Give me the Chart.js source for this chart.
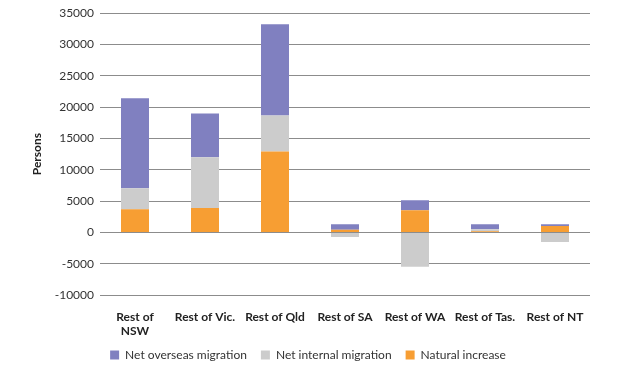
<!DOCTYPE html>
<html>
<head>
<meta charset="utf-8">
<script src="https://cdn.jsdelivr.net/npm/chart.js@4"></script>
<style>
  body { margin: 0; background: #fff; }
</style>
</head>
<body>
<canvas id="chart" width="624" height="381"></canvas>
<script>
const categories = [["Rest of", "NSW"], "Rest of Vic.", "Rest of Qld", "Rest of SA", "Rest of WA", "Rest of Tas.", "Rest of NT"];
const naturalIncrease = [3700, 3900, 12900, 400, 3550, 200, 1000];
const netInternal = [3350, 8100, 5750, -750, -5500, 300, -1550];
const netOverseas = [14350, 7000, 14600, 900, 1600, 800, 300];
const yTicks = { min: -10000, max: 35000, step: 5000 };

const ctx = document.getElementById('chart').getContext('2d');
new Chart(ctx, {
  type: 'bar',
  data: {
    labels: categories,
    datasets: [
      { label: 'Natural increase', data: naturalIncrease, backgroundColor: 'rgb(247,158,51)' },
      { label: 'Net internal migration', data: netInternal, backgroundColor: 'rgb(204,204,204)' },
      { label: 'Net overseas migration', data: netOverseas, backgroundColor: 'rgb(128,128,192)' }
    ]
  },
  options: {
    responsive: false,
    animation: false,
    layout: { padding: { top: 4, right: 34, bottom: 10, left: 26 } },
    datasets: { bar: { categoryPercentage: 0.8, barPercentage: 0.5 } },
    plugins: {
      tooltip: { enabled: false },
      legend: {
        position: 'bottom',
        reverse: true,
        labels: {
          boxWidth: 9, boxHeight: 9, padding: 14,
          color: '#333', font: { family: 'Lato', size: 12 }
        }
      }
    },
    scales: {
      x: {
        stacked: true,
        grid: { display: false },
        border: { display: false },
        ticks: { color: '#222', padding: 7, maxRotation: 0, autoSkip: false, font: { family: 'Lato', size: 12, weight: 'bold' } },
        afterFit: s => { s.height = 40; }
      },
      y: {
        stacked: true,
        min: yTicks.min, max: yTicks.max,
        ticks: { stepSize: yTicks.step, color: '#333', padding: 6, font: { family: 'Lato', size: 12 }, callback: v => String(v) },
        grid: { color: '#8c8c8c', drawTicks: false },
        border: { display: false },
        title: { display: true, text: 'Persons', color: '#222', font: { family: 'Lato', size: 12, weight: 'bold' } },
        afterFit: s => { s.width = 74; }
      }
    }
  }
});
</script>
</body>
</html>
